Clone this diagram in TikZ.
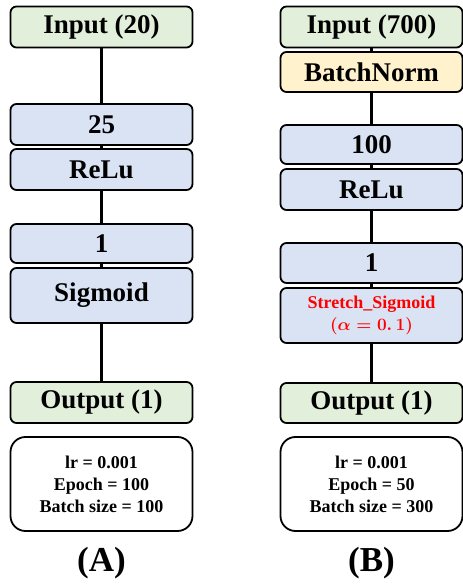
\documentclass[tikz,border=0pt]{standalone}
\usepackage{fontspec}
\setmainfont{Liberation Serif}
\usepackage{amsmath}
\definecolor{iogreen}{HTML}{E2EFDA}
\definecolor{hidblue}{HTML}{DAE3F3}
\definecolor{normyellow}{HTML}{FFF2CC}
\definecolor{actred}{HTML}{FF0000}
\tikzset{
	layer/.style={draw=black, line width=1.8pt, rounded corners=6pt, minimum width=182pt, minimum height=41pt, inner sep=0pt, align=center, font=\fontsize{27}{30}\selectfont\bfseries},
	iolayer/.style={layer, fill=iogreen},
	hidlayer/.style={layer, fill=hidblue},
	normlayer/.style={layer, fill=normyellow},
	parbox/.style={draw=black, line width=1.8pt, rounded corners=15pt, minimum width=182pt, minimum height=94pt, inner sep=0pt, align=center, font=\fontsize{18}{22}\selectfont\bfseries},
	link/.style={line width=2.4pt, black},
	caption/.style={font=\fontsize{35}{40}\selectfont\bfseries}
}
\begin{document}
\begin{tikzpicture}[x=1pt,y=1pt]
		\useasboundingbox (0,0) rectangle (463,584);
		
		%network (A)
		\node[iolayer] (inA) at (101.5,557) {Input (20)};
		\node[hidlayer] (hA1) at (101.5,459.5) {25};
		\node[hidlayer] (actA1) at (101.5,414.5) {ReLu};
		\node[hidlayer, minimum height=39pt] (hA2) at (101.5,340.5) {1};
		\node[hidlayer, minimum height=55pt] (actA2) at (101.5,288.5) {Sigmoid};
		\node[iolayer] (outA) at (101.5,181.5) {Output (1)};
		\node[parbox] (parA) at (101.5,100) {lr = 0.001\\Epoch = 100\\Batch size = 100};
		\node[caption] (capA) at (101.5,21) {(A)};
		
		%network (B)
		\node[iolayer] (inB) at (371.5,557) {Input (700)};
		\node[normlayer, minimum height=40pt] (bnB) at (371.5,512) {BatchNorm};
		\node[hidlayer, minimum height=39pt] (hB1) at (371.5,439.5) {100};
		\node[hidlayer] (actB1) at (371.5,394.5) {ReLu};
		\node[hidlayer, minimum height=40pt] (hB2) at (371.5,321) {1};
		\node[hidlayer, minimum height=55pt, font=\fontsize{18}{22}\selectfont\bfseries, text=actred] (actB2) at (371.5,268.5) {Stretch\_Sigmoid\\$\boldsymbol{(\alpha = 0.\,1)}$};
		\node[iolayer, minimum height=40pt] (outB) at (371.5,181) {Output (1)};
		\node[parbox] (parB) at (371.5,100) {lr = 0.001\\Epoch = 50\\Batch size = 300};
		\node[caption] (capB) at (371.5,21) {(B)};
		
		%links
		\draw[link] (inA) -- (hA1);
		\draw[link] (hA1) -- (actA1);
		\draw[link] (actA1) -- (hA2);
		\draw[link] (hA2) -- (actA2);
		\draw[link] (actA2) -- (outA);
		
		\draw[link] (inB) -- (bnB);
		\draw[link] (bnB) -- (hB1);
		\draw[link] (hB1) -- (actB1);
		\draw[link] (actB1) -- (hB2);
		\draw[link] (hB2) -- (actB2);
		\draw[link] (actB2) -- (outB);
		
\end{tikzpicture}
\end{document}
